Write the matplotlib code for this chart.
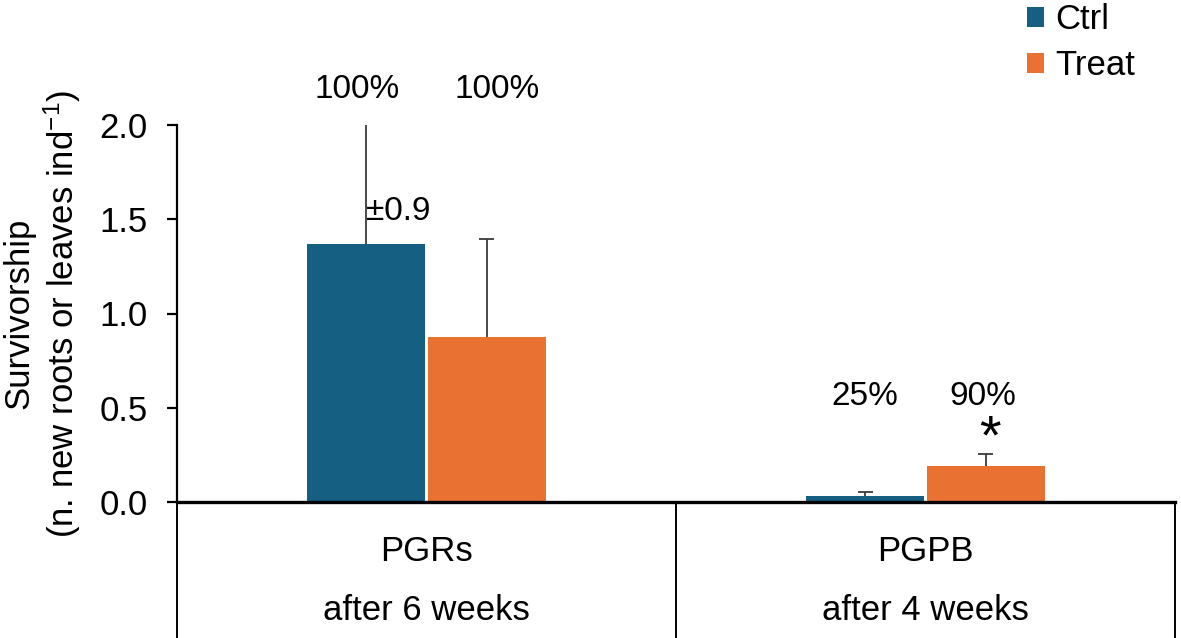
import numpy as np
import matplotlib.pyplot as plt

plt.rcParams['font.family'] = ['Liberation Sans', 'DejaVu Sans']
plt.rcParams['mathtext.default'] = 'regular'

# data
groups = ['PGRs', 'PGPB']
periods = ['after 6 weeks', 'after 4 weeks']
ctrl = [1.37, 0.03]
treat = [0.875, 0.19]
ctrl_err = [0.9, 0.025]
treat_err = [0.52, 0.065]
ctrl_surv = ['100%', '25%']
treat_surv = ['100%', '90%']

c_ctrl = '#156082'
c_treat = '#E97132'
c_err = '#3a3a3a'

fig = plt.figure(figsize=(11.81, 6.38), dpi=100)
ax = fig.add_axes([177/1181, 136/638, 998/1181, 377/638])

x = np.arange(len(groups))
w = 0.236
off = 0.121
ax.bar(x - off, ctrl, w, color=c_ctrl, label='Ctrl')
ax.bar(x + off, treat, w, color=c_treat, label='Treat')

# upper error bars only (cap at the top end)
cw = 0.015
for xs, ys, es in [(x - off, ctrl, ctrl_err), (x + off, treat, treat_err)]:
    for xi, yi, ei in zip(xs, ys, es):
        ax.vlines(xi, yi, yi + ei, color=c_err, lw=1.3)
        ax.hlines(yi + ei, xi - cw, xi + cw, color=c_err, lw=1.3)

ax.set_xlim(-0.5, 1.5)
ax.set_ylim(0, 2.0)
ax.set_yticks([0, 0.5, 1.0, 1.5, 2.0])
ax.set_yticklabels(['0.0', '0.5', '1.0', '1.5', '2.0'])
ax.set_xticks([])
ax.tick_params(axis='y', labelsize=25, length=7, width=1.6, pad=14)
for s in ['top', 'right']:
    ax.spines[s].set_visible(False)
ax.spines['left'].set_linewidth(1.6)
ax.spines['bottom'].set_linewidth(2.4)

# category boxes under the axis
trans = ax.get_xaxis_transform()
for xv in [-0.5, 0.5, 1.5]:
    ax.plot([xv, xv], [0, -0.37], color='black', lw=1.4,
            transform=trans, clip_on=False)
for i in range(len(groups)):
    ax.text(x[i], -0.13, groups[i], transform=trans, ha='center',
            va='center', fontsize=25)
    ax.text(x[i], -0.288, periods[i], transform=trans, ha='center',
            va='center', fontsize=25)

# survivorship percentages and notes
ax.text(-0.139, 2.19, ctrl_surv[0], ha='center', va='center', fontsize=24, clip_on=False)
ax.text(0.141, 2.19, treat_surv[0], ha='center', va='center', fontsize=24, clip_on=False)
ax.text(x[1] - off, 0.56, ctrl_surv[1], ha='center', va='center', fontsize=24)
ax.text(x[1] + off - 0.007, 0.56, treat_surv[1], ha='center', va='center', fontsize=24)
ax.text(x[0] - off + 0.065, 1.54, '±0.9', ha='center', va='center', fontsize=24)
ax.text(x[1] + off + 0.009, 0.33, '*', ha='center', va='center', fontsize=40)

ax.set_ylabel('Survivorship\n(n. new roots or leaves ind$^{-1}$)',
              fontsize=25, linespacing=1.2, labelpad=12)

ax.legend(loc='upper left', bbox_to_anchor=(1027/1181, 1 - 3/638),
          bbox_transform=fig.transFigure, frameon=False, fontsize=25,
          handlelength=0.5, handleheight=0.5, handletextpad=0.3,
          labelspacing=0.38, borderaxespad=0, borderpad=0)

fig.savefig('out.png', dpi=100)
